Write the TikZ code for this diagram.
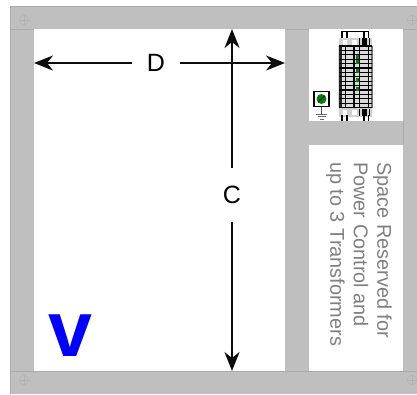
\documentclass[tikz,border=0pt]{standalone}
\usepackage{fontspec}
\setmainfont{Liberation Sans}
\definecolor{panel}{HTML}{BFBFBF}
\definecolor{edge}{HTML}{AAAAAA}
\definecolor{txt}{HTML}{808080}
\definecolor{grn}{HTML}{0A7A0A}
\usetikzlibrary{arrows.meta,calc}
\tikzset{
 dim/.style={line width=1.9pt,-{Stealth[length=19pt,width=15pt,inset=6pt]},black!95},
 lab/.style={font=\fontsize{25}{25}\selectfont,inner sep=0pt,fill=white},
 note/.style={rotate=-90,text=txt,font=\fontsize{19.9}{23.5}\selectfont,inner sep=0pt,align=left,anchor=north west},
 screw/.style={draw=black!30,line width=.4pt},
 wire/.style={line width=1.2pt,black},
}
\begin{document}
\begin{tikzpicture}[x=1pt,y=-1pt]
\useasboundingbox (0,0) rectangle (417,394);
\fill[panel] (10,6) rectangle (417,394);
\draw[edge,line width=.6pt] (10,394) -- (10,6) -- (417,6);
\draw[edge,line width=.6pt] (10,29) -- (417,29) (10,371) -- (417,371);
\fill[white] (34,29) rectangle (285,371);
\fill[white] (309,29) rectangle (403,371);
\fill[panel] (309,121) rectangle (403,145);
\draw[edge,line width=.5pt] (403,121) -- (403,145);
\foreach \p in {(24,20),(412,20),(24,380),(412,380)}{
 \draw[screw] \p circle (4.8pt);
 \draw[screw] \p ++(-4.8,0) -- ++(9.6,0) \p ++(0,-4.8) -- ++(0,9.6);
}
% dimensions
\node[lab,minimum width=48pt,minimum height=24pt] (D) at (156,63) {D};
\node[lab,minimum width=24pt,minimum height=54pt] (C) at (232,195) {C};
\coordinate (dl) at (34,63); \coordinate (dr) at (285,63);
\coordinate (ct) at (232,29); \coordinate (cb) at (232,371);
\draw[dim] (D) -- (dl);
\draw[dim] (D) -- (dr);
\draw[dim] (C) -- (ct);
\draw[dim] (C) -- (cb);
% logo
\node[font=\fontsize{79}{79}\selectfont\bfseries,text=blue,inner sep=0pt,anchor=base] (logo) at (70,356) {v};
% note
\node[note] (n) at (392,162) {Space Reserved for\\Power Control and\\up to 3 Transformers};
% device
\fill[black!18] (339,38) rectangle (372,46);
\fill[black!18] (339,108) rectangle (372,117);
\fill[black!14] (338,46) rectangle (373,108);
\fill[black!85] (338.5,46) rectangle (341.5,108);
\fill[black!55] (371,46) rectangle (373,108);
\draw[wire] (342,38) -- (342,31.5) -- (368.5,31.5) -- (368.5,38);
\draw[wire] (347,38) -- (347,31.5);
\draw[wire] (364,38) -- (364,31.5);
\foreach \x in {342,347,368.5,364}{\draw[wire] (\x,115) -- (\x,121);}
\fill[white] (343,40) rectangle (347,46);
\fill[white] (352,40) rectangle (357,46);
\fill[white] (343,110) rectangle (347,115);
\fill[white] (352,110) rectangle (357,115);
\fill[black] (362,38) rectangle (367,46);
\fill[black] (362,109) rectangle (367,116);
\foreach \x in {358.5,369}{\fill[black] (\x,38) rectangle (\x+1.2,46);\fill[black] (\x,109) rectangle (\x+1.2,116);}
\foreach \i in {0,...,14}{\draw[wire] (339,46+4.4*\i) -- (372,46+4.4*\i);}
\foreach \x in {345.5,354,359.5,368.5}{\draw[wire] (\x,46) -- (\x,108);}
\foreach \y in {57,61.5,70.5,79.5,88.5}{\fill[grn] (356,\y-2) rectangle (358.8,\y+2);}
% source
\node[draw=black,line width=1.2pt,fill=white,minimum size=15pt,inner sep=0pt] (box) at (321.5,99) {};
\fill[grn] (box.center) circle (5pt);
\draw[black,line width=.6pt] ($(box.center)+(-3,3)$) -- ($(box.center)+(3,-3)$);
\coordinate (g) at (321.5,114);
\draw[black!70,line width=.6pt] (box) -- (g);
\draw[black!60,line width=.7pt] (316,114) -- (327,114) (317.5,116.5) -- (325.5,116.5) (319.5,119) -- (323.5,119);
\end{tikzpicture}
\end{document}
